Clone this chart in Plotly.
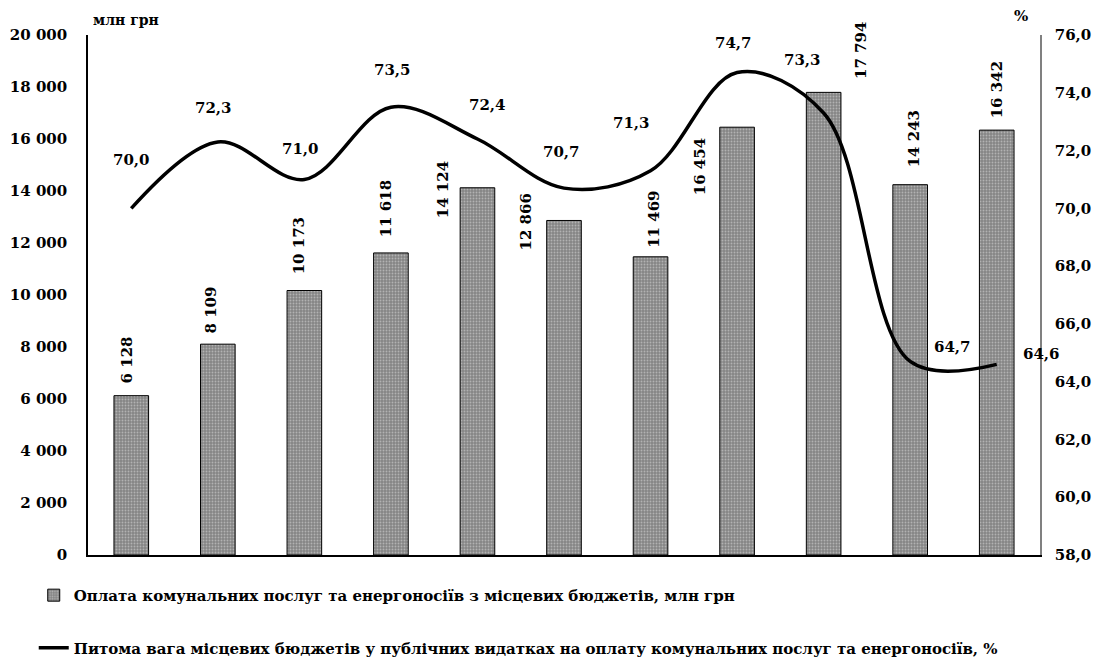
import plotly.graph_objects as go

# Periods (11 consecutive reporting years, unlabeled on the axis)
periods = list(range(1, 12))

# Payments for utilities and energy from local budgets, mln UAH
payments = [6128, 8109, 10173, 11618, 14124, 12866, 11469, 16454, 17794, 14243, 16342]
payment_labels = ["6 128", "8 109", "10 173", "11 618", "14 124", "12 866",
                  "11 469", "16 454", "17 794", "14 243", "16 342"]

# Share of local budgets in public spending on utilities and energy, %
share = [70.0, 72.3, 71.0, 73.5, 72.4, 70.7, 71.3, 74.7, 73.3, 64.7, 64.6]
share_labels = ["70,0", "72,3", "71,0", "73,5", "72,4", "70,7",
                "71,3", "74,7", "73,3", "64,7", "64,6"]

# Axis ticks
left_ticks = [0, 2000, 4000, 6000, 8000, 10000, 12000, 14000, 16000, 18000, 20000]
left_tick_text = ["0", "2 000", "4 000", "6 000", "8 000", "10 000",
                  "12 000", "14 000", "16 000", "18 000", "20 000"]
right_ticks = [58, 60, 62, 64, 66, 68, 70, 72, 74, 76]
right_tick_text = ["58,0", "60,0", "62,0", "64,0", "66,0", "68,0",
                   "70,0", "72,0", "74,0", "76,0"]

bar_name = "Оплата комунальних послуг та енергоносіїв з місцевих бюджетів, млн грн"
line_name = ("Питома вага місцевих бюджетів у публічних видатках на оплату "
             "комунальних послуг та енергоносіїв, %")

FONT = "DejaVu Serif"


def bold(size):
    return dict(family=FONT, size=size, color="#000000", weight="bold")


# Label placement tweaks (pixels)
bar_label_pos = [(-4, "bottom", 10), (-7, "bottom", 9), (-5, "bottom", 14),
                 (-4, "bottom", 14), (-35, "middle", -2), (-38, "middle", -2),
                 (4, "bottom", 7), (-37, "middle", -40), (38, "middle", 42),
                 (4, "bottom", 15), (0, "bottom", 10)]
line_label_pos = [(0, 48), (-4, 34), (-4, 30), (2, 37), (10, 34), (-3, 36),
                  (-19, 48), (-4, 30), (-21, 53), (42, 14), (45, 10)]

fig = go.Figure()

fig.add_trace(go.Bar(
    x=periods, y=payments, name=bar_name, width=0.4,
    marker=dict(color="#8c8c8c",
                line=dict(color="#000000", width=1),
                pattern=dict(shape=".", fgcolor="#e0e0e0", bgcolor="#858585",
                             size=3, solidity=0.3)),
    legendgroup="a",
))

fig.add_trace(go.Scatter(
    x=periods, y=share, name=line_name, yaxis="y2", mode="lines",
    line=dict(color="#000000", width=3.5, shape="spline", smoothing=1.0),
    legendgroup="b",
))

annotations = []
for p, v, t, (dx, ya, dy) in zip(periods, payments, payment_labels, bar_label_pos):
    annotations.append(dict(
        x=p, y=v, xref="x", yref="y", text=t, textangle=-90, showarrow=False,
        xanchor="center", yanchor=ya, xshift=dx, yshift=dy, font=bold(15),
    ))
for p, v, t, (dx, dy) in zip(periods, share, share_labels, line_label_pos):
    annotations.append(dict(
        x=p, y=v, xref="x", yref="y2", text=t, showarrow=False,
        xanchor="center", yanchor="middle", xshift=dx, yshift=dy, font=bold(15),
    ))
# Axis unit captions
annotations.append(dict(x=0.0, y=1.0, xref="paper", yref="paper", text="млн грн",
                        showarrow=False, xanchor="left", yanchor="bottom",
                        xshift=3, yshift=5, font=bold(14)))
annotations.append(dict(x=1.0, y=1.0, xref="paper", yref="paper", text="%",
                        showarrow=False, xanchor="right", yanchor="bottom",
                        xshift=-10, yshift=8, font=bold(15)))

fig.update_layout(
    width=1096, height=664,
    margin=dict(l=88, r=56, t=35, b=109, autoexpand=False),
    paper_bgcolor="#ffffff", plot_bgcolor="#ffffff",
    showlegend=True,
    legend=dict(x=-0.057, xanchor="left", y=-0.046, yanchor="top",
                orientation="v", tracegroupgap=30,
                font=bold(15), itemwidth=30, bgcolor="rgba(0,0,0,0)"),
    xaxis=dict(range=[0.5, 11.5], showticklabels=False, ticks="",
               showgrid=False, zeroline=False, showline=True,
               linecolor="#000000", linewidth=1.5, fixedrange=True,
               automargin=False),
    yaxis=dict(range=[0, 20000], tickvals=left_ticks, ticktext=left_tick_text,
               showgrid=False, zeroline=False, showline=True,
               linecolor="#000000", linewidth=1.5, ticks="", automargin=False,
               ticklabelstandoff=16, tickfont=bold(15)),
    yaxis2=dict(range=[58, 76], tickvals=right_ticks, ticktext=right_tick_text,
                overlaying="y", side="right", showgrid=False, zeroline=False,
                showline=True, linecolor="#808080", linewidth=1.5, ticks="",
                automargin=False, ticklabelstandoff=10, tickfont=bold(15)),
    annotations=annotations,
)

fig.write_html("out.html")
